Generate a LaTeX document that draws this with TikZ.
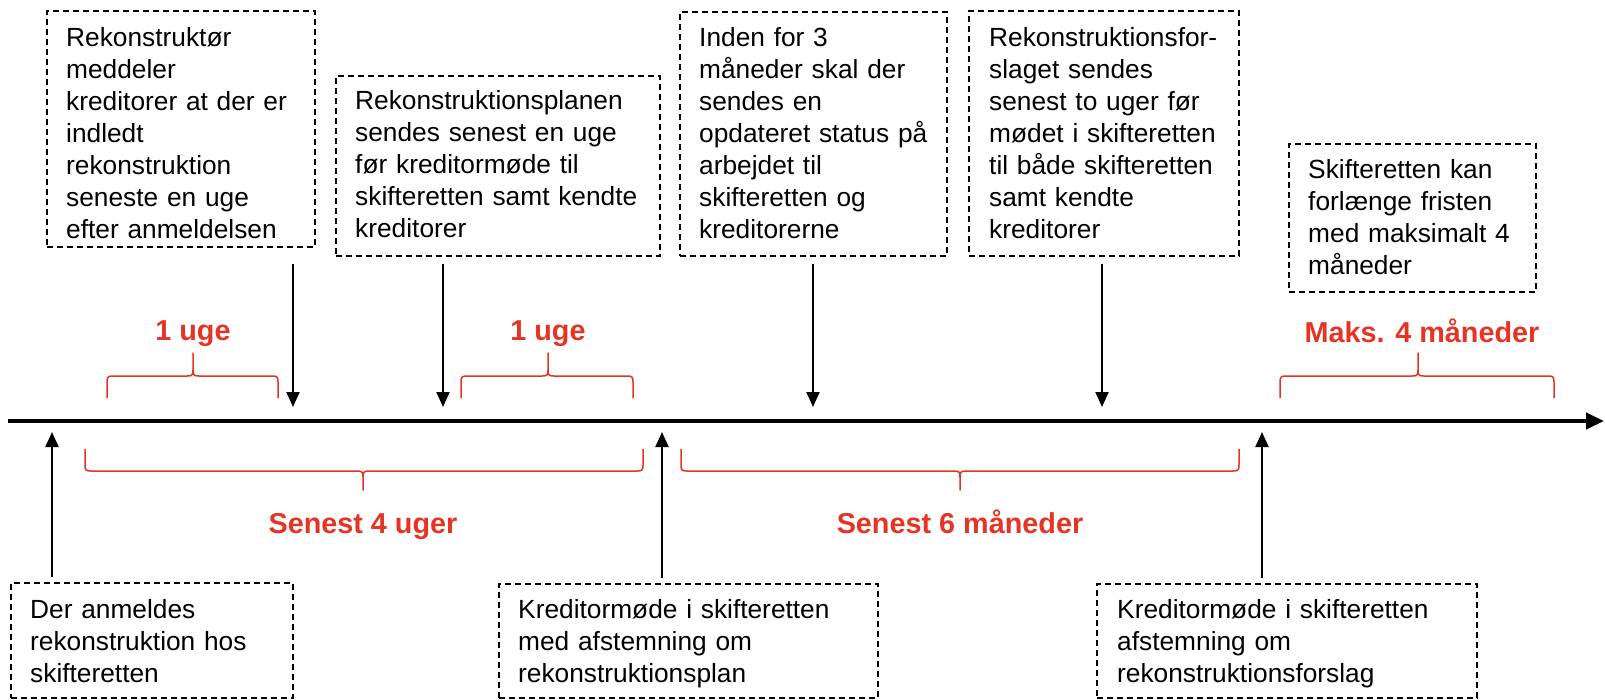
\documentclass[tikz,border=0pt]{standalone}
\usepackage{fontspec}
\setmainfont{Liberation Sans}
\usetikzlibrary{arrows.meta,calc}
\definecolor{myred}{RGB}{230,52,36}
\tikzset{
  boxframe/.style={draw=black, line width=1.5pt, dash pattern=on 6pt off 4pt, rectangle, inner sep=0pt, anchor=north west},
  boxtext/.style={anchor=base west, inner sep=0pt, align=left, font=\fontsize{26.3}{32}\selectfont},
  redlabel/.style={anchor=base, inner sep=0pt, text=myred, font=\fontsize{28.8}{34}\selectfont\bfseries},
  bracestyle/.style={draw=myred, line width=1.5pt, line join=round},
  ptr/.style={draw=black, line width=2pt, -{Triangle[length=15pt,width=13pt]}},
  axisline/.style={draw=black, line width=4pt, -{Triangle[length=18pt,width=16pt]}}
}
\begin{document}
\begin{tikzpicture}[x=1pt,y=-1pt]
\useasboundingbox (0,0) rectangle (1605,699);

% axis
\coordinate (axL) at (8,421);
\coordinate (axR) at (1604,421);
\draw[axisline] (axL) -- (axR);

% top boxes
\node[boxframe, minimum width=268pt, minimum height=236pt] (b1) at (46,10) {};
\node[boxtext, text width=258pt] (t1) at (66,46) {Rekonstruktør\\meddeler\\kreditorer at der er\\indledt\\rekonstruktion\\seneste en uge\\efter anmeldelsen};

\node[boxframe, minimum width=324pt, minimum height=180pt] (b2) at (335,75) {};
\node[boxtext, text width=314pt] (t2) at (355,109) {Rekonstruktionsplanen\\sendes senest en uge\\før kreditormøde til\\skifteretten samt kendte\\kreditorer};

\node[boxframe, minimum width=267pt, minimum height=244pt] (b3) at (679,11) {};
\node[boxtext, text width=257pt] (t3) at (699,46) {Inden for 3\\måneder skal der\\sendes en\\opdateret status på\\arbejdet til\\skifteretten og\\kreditorerne};

\node[boxframe, minimum width=270pt, minimum height=245pt] (b4) at (968,10) {};
\node[boxtext, text width=260pt] (t4) at (989,46) {Rekonstruktionsfor-\\slaget sendes\\senest to uger før\\mødet i skifteretten\\til både skifteretten\\samt kendte\\kreditorer};

\node[boxframe, minimum width=247pt, minimum height=148pt] (b5) at (1288,143) {};
\node[boxtext, text width=237pt] (t5) at (1308,178) {Skifteretten kan\\forlænge fristen\\med maksimalt 4\\måneder};

% bottom boxes
\node[boxframe, minimum width=282pt, minimum height=115pt] (b6) at (10,582) {};
\node[boxtext, text width=272pt] (t6) at (30,618) {Der anmeldes\\rekonstruktion hos\\skifteretten};

\node[boxframe, minimum width=379pt, minimum height=114pt] (b7) at (498,583) {};
\node[boxtext, text width=369pt] (t7) at (518,618) {Kreditormøde i skifteretten\\med afstemning om\\rekonstruktionsplan};

\node[boxframe, minimum width=380pt, minimum height=114pt] (b8) at (1096,583) {};
\node[boxtext, text width=370pt] (t8) at (1117,618) {Kreditormøde i skifteretten\\afstemning om\\rekonstruktionsforslag};

% arrow end points on the axis
\coordinate (d1) at (293,407);
\coordinate (d2) at (443,407);
\coordinate (d3) at (813,407);
\coordinate (d4) at (1102,407);
\coordinate (u1) at (52,432);
\coordinate (u2) at (662,432);
\coordinate (u3) at (1262,432);

\draw[ptr, shorten <=16pt] (b1.south -| d1) -- (d1);
\draw[ptr, shorten <=7pt] (b2.south -| d2) -- (d2);
\draw[ptr, shorten <=7pt] (b3.south -| d3) -- (d3);
\draw[ptr, shorten <=7pt] (b4.south -| d4) -- (d4);
\draw[ptr, shorten <=5pt] (b6.north -| u1) -- (u1);
\draw[ptr, shorten <=5pt] (b7.north -| u2) -- (u2);
\draw[ptr, shorten <=5pt] (b8.north -| u3) -- (u3);

% top braces
\draw[bracestyle] (107,398) -- (107,382) .. controls (107,377) and (108,376) .. (113,376) -- (187,376) .. controls (192,376) and (193,375) .. (193,370) -- (193,353) -- (193,370) .. controls (193,375) and (194,376) .. (199,376) -- (272,376) .. controls (277,376) and (278,377) .. (278,382) -- (278,398);
\draw[bracestyle] (461,398) -- (461,382) .. controls (461,377) and (462,376) .. (467,376) -- (542,376) .. controls (547,376) and (548,375) .. (548,370) -- (548,353) -- (548,370) .. controls (548,375) and (549,376) .. (554,376) -- (627,376) .. controls (632,376) and (633,377) .. (633,382) -- (633,398);
\draw[bracestyle] (1280,398) -- (1280,382) .. controls (1280,377) and (1281,376) .. (1286,376) -- (1412,376) .. controls (1417,376) and (1418,375) .. (1418,370) -- (1418,353) -- (1418,370) .. controls (1418,375) and (1419,376) .. (1424,376) -- (1548,376) .. controls (1553,376) and (1554,377) .. (1554,382) -- (1554,398);

% bottom braces
\draw[bracestyle] (85,449) -- (85,465) .. controls (85,470) and (86,471) .. (91,471) -- (357,471) .. controls (362,471) and (363,472) .. (363,477) -- (363,490) -- (363,477) .. controls (363,472) and (364,471) .. (369,471) -- (637,471) .. controls (642,471) and (643,470) .. (643,465) -- (643,449);
\draw[bracestyle] (681,449) -- (681,465) .. controls (681,470) and (682,471) .. (687,471) -- (954,471) .. controls (959,471) and (960,472) .. (960,477) -- (960,490) -- (960,477) .. controls (960,472) and (961,471) .. (966,471) -- (1233,471) .. controls (1238,471) and (1239,470) .. (1239,465) -- (1239,449);

% red labels
\node[redlabel] (l1) at (193,340) {1 uge};
\node[redlabel] (l2) at (548,340) {1 uge};
\node[redlabel] (l3) at (1422,342) {Maks. 4 måneder};
\node[redlabel] (l4) at (363,533) {Senest 4 uger};
\node[redlabel] (l5) at (960,533) {Senest 6 måneder};
\end{tikzpicture}
\end{document}
